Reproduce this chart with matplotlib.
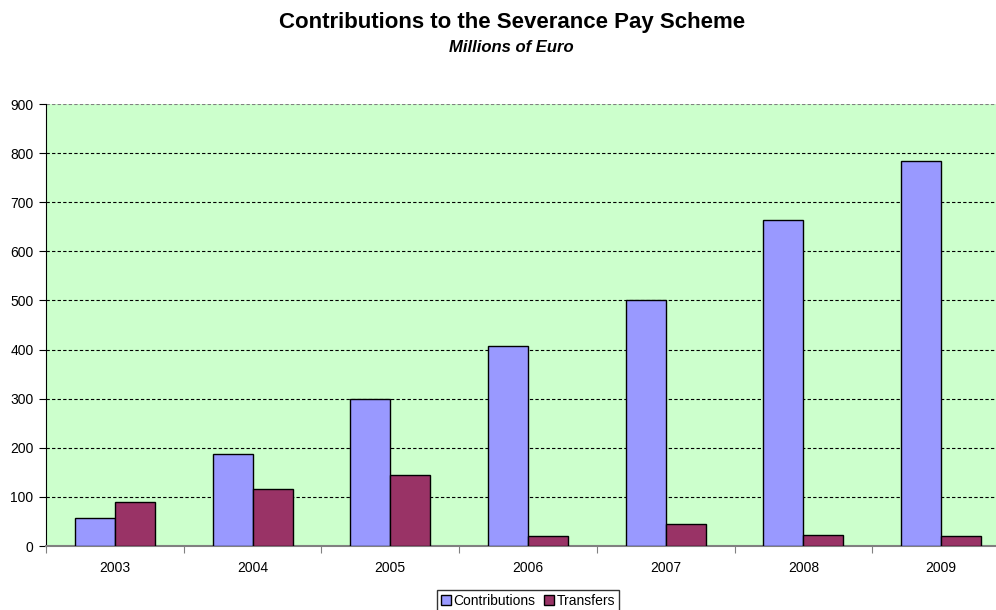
import numpy as np
import matplotlib.pyplot as plt

years = ["2003", "2004", "2005", "2006", "2007", "2008", "2009"]
contributions = [58, 187, 299, 408, 501, 664, 784]
transfers = [89, 116, 145, 20, 45, 23, 21]

plt.rcParams['font.family'] = ['Liberation Sans', 'DejaVu Sans']

fig = plt.figure(figsize=(9.96, 6.1), dpi=100)
W, H = 996, 610
# plot area runs a little past the right edge of the figure
ax = fig.add_axes([46 / W, (H - 546) / H, (1010 - 46) / W, (546 - 104) / H])
ax.set_facecolor('#CCFFCC')

x = np.arange(len(years))
w = 0.29
ax.bar(x - w / 2, contributions, w, color='#9999FF', edgecolor='black',
       linewidth=1, label='Contributions', zorder=3)
ax.bar(x + w / 2, transfers, w, color='#993366', edgecolor='black',
       linewidth=1, label='Transfers', zorder=3)

ax.set_xlim(-0.5, len(years) - 0.5)
ax.set_ylim(0, 900)
ax.set_yticks(range(0, 901, 100))
ax.yaxis.grid(True, color='black', linestyle=(0, (3, 2)), linewidth=0.8, zorder=1)
ax.get_ygridlines()[-1].set_color('#808080')

# category boundaries get the tick marks, centres get the labels
ax.set_xticks(np.arange(-0.5, len(years), 1.0))
ax.set_xticklabels([])
ax.set_xticks(x, minor=True)
ax.set_xticklabels(years, minor=True)
ax.tick_params(axis='x', which='major', length=5, color='#808080', direction='out')
ax.tick_params(axis='x', which='minor', length=0, pad=11, labelsize=10)
ax.tick_params(axis='y', length=5, direction='out', labelsize=10, pad=4)

for s in ['top', 'right']:
    ax.spines[s].set_visible(False)
ax.spines['left'].set_color('black')
ax.spines['bottom'].set_color('#808080')
ax.spines['bottom'].set_linewidth(1.5)

fig.text(512 / W, 1 - 28 / H, 'Contributions to the Severance Pay Scheme',
         ha='center', va='baseline', fontsize=16, fontweight='bold')
fig.text(511 / W, 1 - 52 / H, 'Millions of Euro', ha='center', va='baseline',
         fontsize=12, fontweight='bold', style='italic')

fig.legend(loc='center', bbox_to_anchor=(528 / W, 1 - 601 / H), ncol=2,
           fontsize=10, frameon=True, fancybox=False, edgecolor='black',
           handlelength=0.7, handleheight=0.7, handletextpad=0.2,
           columnspacing=0.6, borderpad=0.3, borderaxespad=0)

fig.savefig('out.png', dpi=100)
